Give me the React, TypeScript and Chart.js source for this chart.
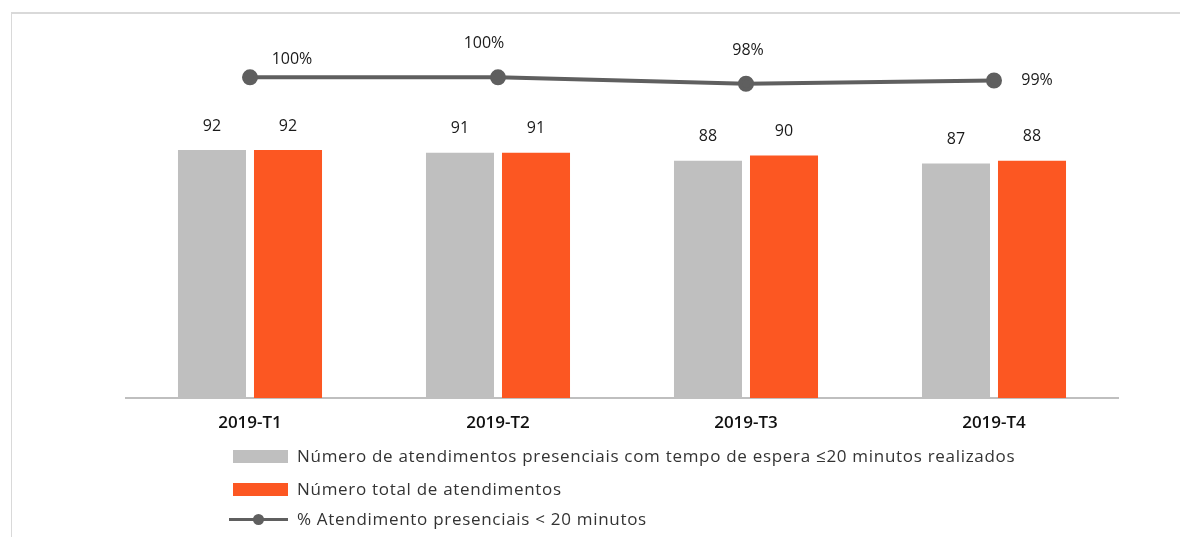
import React, { useEffect, useRef } from "react";
import { Chart, registerables } from "chart.js";

Chart.register(...registerables);

const categories = ["2019-T1", "2019-T2", "2019-T3", "2019-T4"];
const within20 = [92, 91, 88, 87];
const totals = [92, 91, 90, 88];
const pctWithin20 = [100, 100, 98, 99];

const seriesNames = [
  "Número de atendimentos presenciais com tempo de espera ≤20 minutos realizados",
  "Número total de atendimentos",
  "% Atendimento presenciais < 20 minutos",
];

const GRAY = "#bfbfbf";
const ORANGE = "#fc5722";
const LINE = "#5f5f5f";
const FONT = "'Open Sans', 'Noto Sans', sans-serif";

// label offsets for the line labels (style only)
const lineLabelOffsets = [
  [42, -18],
  [-14, -34],
  [2, -33],
  [43, 0],
];

const labelPlugin = {
  id: "valueLabels",
  afterDatasetsDraw(chart: any) {
    const ctx = chart.ctx;
    ctx.save();
    ctx.font = `16px ${FONT}`;
    ctx.fillStyle = "#1a1a1a";
    ctx.textAlign = "center";
    ctx.textBaseline = "middle";
    [0, 1].forEach((di) => {
      const meta = chart.getDatasetMeta(di);
      meta.data.forEach((el: any, i: number) => {
        const v = chart.data.datasets[di].data[i];
        ctx.fillText(String(v), el.x, el.y - 24);
      });
    });
    const lm = chart.getDatasetMeta(2);
    lm.data.forEach((el: any, i: number) => {
      const v = chart.data.datasets[2].data[i];
      const [dx, dy] = lineLabelOffsets[i];
      ctx.fillText(`${v}%`, el.x + dx, el.y + dy);
    });
    ctx.restore();
  },
};

export default function App() {
  const ref = useRef<HTMLCanvasElement>(null);
  useEffect(() => {
    if (!ref.current) return;
    const chart = new Chart(ref.current, {
      type: "bar",
      data: {
        labels: categories,
        datasets: [
          {
            label: seriesNames[0],
            data: within20,
            backgroundColor: GRAY,
            yAxisID: "y",
            categoryPercentage: 0.613,
            barPercentage: 0.895,
            order: 1,
          },
          {
            label: seriesNames[1],
            data: totals,
            backgroundColor: ORANGE,
            yAxisID: "y",
            categoryPercentage: 0.613,
            barPercentage: 0.895,
            order: 1,
          },
          {
            type: "line",
            label: seriesNames[2],
            data: pctWithin20,
            yAxisID: "y2",
            borderColor: LINE,
            backgroundColor: LINE,
            borderWidth: 4,
            pointRadius: 6,
            pointBackgroundColor: LINE,
            pointBorderColor: LINE,
            order: 0,
          },
        ] as any,
      },
      options: {
        animation: false,
        responsive: false,
        maintainAspectRatio: false,
        layout: { padding: { left: 118, right: 62, top: 0, bottom: 91 } },
        plugins: { legend: { display: false }, tooltip: { enabled: false } },
        scales: {
          x: {
            grid: { display: false, drawTicks: false },
            border: { display: true, color: GRAY, width: 2 },
            ticks: {
              padding: 15,
              color: "#111",
              font: { family: FONT, size: 17, weight: "600" },
            },
            afterFit: (scale: any) => {
              scale.height = 40;
            },
          },
          y: { display: false, min: 0, max: 141 },
          y2: { display: false, min: 0, max: 118.5, position: "right" },
        },
      } as any,
      plugins: [labelPlugin],
    });
    return () => chart.destroy();
  }, []);

  const legendText: React.CSSProperties = {
    position: "absolute",
    left: 289,
    fontFamily: FONT,
    fontSize: 17,
    letterSpacing: "0.7px",
    color: "#333",
    lineHeight: "20px",
    whiteSpace: "nowrap",
  };

  return (
    <div style={{ position: "relative", width: 1172, height: 521, overflow: "hidden" }}>
      <div style={{ position: "fixed", left: 11, top: 12, right: 0, height: 2, background: "#d9d9d9" }} />
      <div style={{ position: "fixed", left: 11, top: 12, width: 1, bottom: 0, background: "#d9d9d9" }} />
      <canvas ref={ref} width={1172} height={521} style={{ position: "absolute", left: 0, top: 0 }} />
      <div style={{ position: "absolute", left: 225, top: 442, width: 55, height: 13, background: GRAY }} />
      <div style={{ ...legendText, top: 438 }}>{seriesNames[0]}</div>
      <div style={{ position: "absolute", left: 225, top: 475, width: 55, height: 13, background: ORANGE }} />
      <div style={{ ...legendText, top: 471 }}>{seriesNames[1]}</div>
      <div style={{ position: "absolute", left: 221, top: 510, width: 59, height: 3, background: LINE }} />
      <div style={{ position: "absolute", left: 245, top: 506, width: 11, height: 11, borderRadius: "50%", background: LINE }} />
      <div style={{ ...legendText, top: 501 }}>{seriesNames[2]}</div>
    </div>
  );
}
